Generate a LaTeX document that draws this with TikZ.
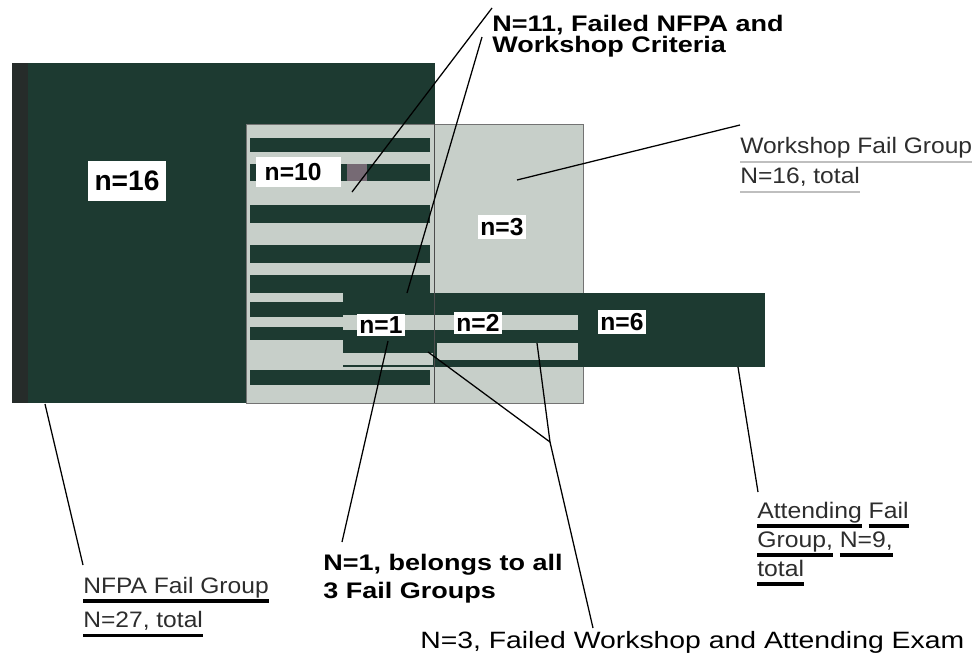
\documentclass[tikz,border=0pt]{standalone}
\usepackage{fontspec}
\setmainfont{Liberation Sans}
\newfontfamily\labelfont[FakeStretch=1.1]{Liberation Sans}
\newfontfamily\notefont[FakeStretch=1.2]{Liberation Sans}
\usetikzlibrary{calc, positioning}
\definecolor{nfpagreen}{RGB}{29, 58, 49}
\definecolor{nfpaedge}{RGB}{38, 44, 42}
\definecolor{shoplight}{RGB}{199, 207, 201}
\definecolor{patchgray}{RGB}{118, 106, 116}
\definecolor{inkgray}{RGB}{45, 45, 45}

% underline one word (or a run of words) with a thick rule
\newlength\ulwd
\newcommand\ulword[3][black]{\settowidth\ulwd{#3}\rlap{\textcolor{#1}{\rule[-6.5pt]{\ulwd}{#2}}}#3}

\begin{document}
\begin{tikzpicture}[
  x=0.025cm, y=-0.025cm,
  count/.style={fill=white, inner xsep=2pt, inner ysep=2pt, font=\bfseries\fontsize{17.5}{20}\selectfont},
  callout/.style={inner sep=0pt, anchor=north west, align=left, text=inkgray},
  leader/.style={draw=black, line width=0.9pt},
]
\useasboundingbox (0,0) rectangle (980,658);

% NFPA fail group
\fill[nfpagreen] (12,63) rectangle (435,403);
\fill[nfpaedge] (12,63) rectangle (28,403);

% Workshop fail group, striped where it overlaps NFPA
\fill[shoplight] (246,124) rectangle (583,403);
\foreach \ya/\yb in {138/152, 164/181, 205/223, 245/263, 275/293, 370/385}
  \fill[nfpagreen] (250,\ya) rectangle (430,\yb);
\foreach \ya/\yb in {302/317, 327/340}
  \fill[nfpagreen] (250,\ya) rectangle (343,\yb);
\fill[patchgray] (347,164) rectangle (367,181);
\draw[black!55] (246,124) rectangle (583,403);

% Attending fail group
\fill[nfpagreen] (343,293) rectangle (765,367);
\fill[shoplight] (343,315) rectangle (578,330);
\fill[shoplight] (437,343) rectangle (578,360);
\fill[shoplight] (343,353) rectangle (433,365);
\draw[black!70] (434,124) -- (434,403);

% counts
\node[count, font=\bfseries\fontsize{20}{22}\selectfont, minimum width=56pt, minimum height=29pt] (n16) at (127,181) {n=16};
\node[count, anchor=west, text width=48pt, align=left, minimum height=22pt, inner xsep=6pt] (n10) at (256,172) {n=10};
\node[count] (n3) at (502,227) {n=3};
\node[count] (n1) at (381,325) {n=1};
\node[count] (n2) at (478,323) {n=2};
\node[count] (n6) at (622,322) {n=6};

% callouts
\node[callout, text=black, font=\notefont\bfseries\fontsize{16}{15}\selectfont] (both) at (492,15)
  {N=11, Failed NFPA and\\Workshop Criteria};
\node[callout, font=\labelfont\fontsize{15.9}{21.3}\selectfont] (shop) at (740,137)
  {\ulword[black!25]{1.3pt}{Workshop Fail Group}\\\ulword[black!25]{1.3pt}{N=16, total}};
\node[callout, font=\labelfont\fontsize{15.9}{24.5}\selectfont] (nfpa) at (83,577)
  {\ulword{2.3pt}{NFPA Fail Group}\\\ulword{2.3pt}{N=27, total}};
\node[callout, font=\labelfont\fontsize{16}{20.6}\selectfont] (att) at (757,502)
  {\ulword{2.3pt}{Attending} \ulword{2.3pt}{Fail}\\\ulword{2.3pt}{Group,} \ulword{2.3pt}{N=9,}\\\ulword{2.3pt}{total}};
\node[callout, text=black, font=\notefont\bfseries\fontsize{16}{19.9}\selectfont] (all3) at (323,554)
  {N=1, belongs to all\\3 Fail Groups};
\node[callout, text=black, font=\notefont\fontsize{16.8}{20}\selectfont] (shared) at (420,631)
  {N=3, Failed Workshop and Attending Exam};

% leader ends inside the groups
\coordinate (in10) at (352,192);
\coordinate (in11) at (407,293);
\coordinate (inShop) at (517,180);
\coordinate (inNfpa) at (45,404);
\coordinate (inAll) at (388,341);
\coordinate (inA) at (428,352);
\coordinate (inB) at (537,343);
\coordinate (fork) at (550,442);
\coordinate (inAtt) at (738,367);

% leaders
\draw[leader] ($(both.north west)+(0,-7)$) -- (in10);
\draw[leader] ($(both.north west)+(-10,22)$) -- (in11);
\draw[leader] ($(shop.north west)+(0,-12)$) -- (inShop);
\draw[leader] ($(nfpa.north west)+(0,-12)$) -- (inNfpa);
\draw[leader] ($(all3.north west)+(19,-12)$) -- (inAll);
\draw[leader] (inA) -- (fork) -- (inB);
\draw[leader] (fork) -- ($(shared.north west)+(173,-3)$);
\draw[leader] ($(att.north west)+(1,-10)$) -- (inAtt);
\end{tikzpicture}
\end{document}
